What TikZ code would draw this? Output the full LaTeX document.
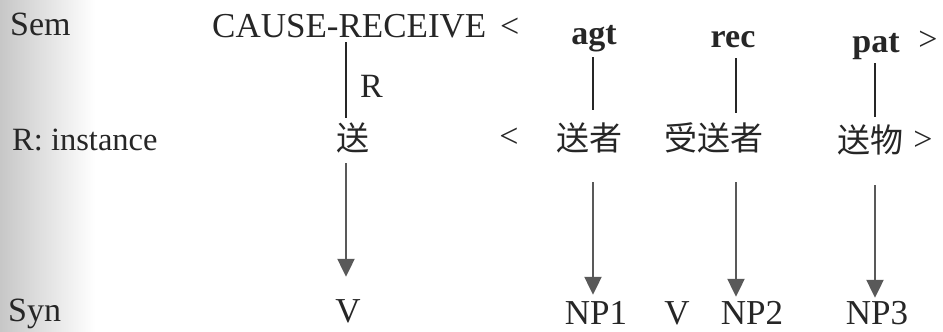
\documentclass[tikz,border=0pt]{standalone}
\usepackage{fontspec}
\setmainfont{Liberation Serif}
\newfontfamily\cjk{Noto Sans CJK SC}
\usetikzlibrary{arrows.meta}
\begin{document}
\begin{tikzpicture}[x=1pt,y=-1pt,
  lat/.style={font=\fontsize{34}{40}\selectfont, inner sep=0pt, text height=24pt, text depth=8pt, anchor=base, text=black!85},
  big/.style={lat, font=\fontsize{35}{40}\selectfont, text depth=1pt},
  latb/.style={lat, font=\fontsize{34}{40}\selectfont\bfseries},
  zh/.style={font=\cjk\fontsize{33}{40}\selectfont, inner sep=0pt, text height=28pt, text depth=3pt, anchor=base, text=black!85},
  link/.style={draw=black!85, line width=1.8pt},
  arr/.style={draw=black!65, line width=2.2pt, -{Triangle[width=17pt,length=18pt]}}]
\useasboundingbox (0,0) rectangle (943,332);
\shade[left color=black!22, right color=white] (0,0) rectangle (95,332);
% row labels
\node[lat, anchor=base west] (sem) at (10,35) {Sem};
\node[lat, font=\fontsize{32.5}{40}\selectfont, anchor=base west] (rinst) at (12,150) {R: instance};
\node[lat, text depth=7pt, anchor=base west] (syn) at (8,321) {Syn};
% semantic row
\node[big, text depth=8pt, anchor=base west] (cause) at (212,37) {CAUSE-RECEIVE};
\node[lat, anchor=base west] (lt1) at (500,37) {<};
\node[latb] (agt) at (594,45) {agt};
\node[latb] (rec) at (733,47) {rec};
\node[latb] (pat) at (876,52) {pat};
\node[lat] (gt1) at (928,50) {>};
\node[lat, anchor=base west] (rlab) at (360,97) {R};
% instance row
\node[zh] (song) at (353,150) {送};
\node[lat] (lt2) at (509,147) {<};
\node[zh] (szhe) at (589,150) {送者};
\node[zh] (sszhe) at (714,150) {受送者};
\node[zh] (swu) at (870,152) {送物};
\node[lat] (gt2) at (923,150) {>};
% syntax row
\node[big] (v1) at (348,322) {V};
\node[big] (np1) at (596,324) {NP1};
\node[big] (v2) at (677,324) {V};
\node[big] (np2) at (752,324) {NP2};
\node[big] (np3) at (877,324) {NP3};
% column coordinates
\coordinate (c0) at (346,0);
\coordinate (c1) at (593,0);
\coordinate (c2) at (736,0);
\coordinate (c3) at (875,0);
% links
\draw[link, shorten <=-3pt, shorten >=4pt] (cause.south -| c0) -- (song.north -| c0);
\draw[link, shorten <=4pt, shorten >=12pt] (agt.south -| c1) -- (szhe.north -| c1);
\draw[link, shorten <=3pt, shorten >=9pt] (rec.south -| c2) -- (sszhe.north -| c2);
\draw[link, shorten <=3pt, shorten >=7pt] (pat.south -| c3) -- (swu.north -| c3);
% arrows
\draw[arr, shorten <=10pt, shorten >=21pt] (song.south -| c0) -- (v1.north -| c0);
\draw[arr, shorten <=29pt, shorten >=5pt] (szhe.south -| c1) -- (np1.north -| c1);
\draw[arr, shorten <=29pt, shorten >=3pt] (sszhe.south -| c2) -- (np2.north -| c2);
\draw[arr, shorten <=30pt, shorten >=2pt] (swu.south -| c3) -- (np3.north -| c3);
\end{tikzpicture}
\end{document}
